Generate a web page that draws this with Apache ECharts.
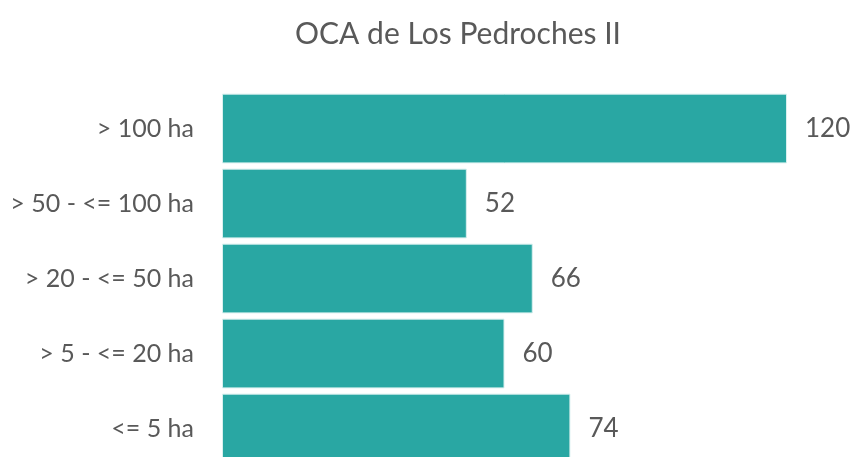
<!DOCTYPE html>
<html>
<head>
<meta charset="utf-8">
<script src="https://cdn.jsdelivr.net/npm/echarts@6/dist/echarts.min.js"></script>
<style>
  html, body { margin: 0; padding: 0; background: #fff; overflow: hidden; }
  #chart { width: 852px; height: 480px; }
</style>
</head>
<body>
<div id="chart"></div>
<script>
const categories = ["<= 5 ha", "> 5 - <= 20 ha", "> 20 - <= 50 ha", "> 50 - <= 100 ha", "> 100 ha"];
const values = [74, 60, 66, 52, 120];

const chart = echarts.init(document.getElementById("chart"));
const font = "Lato, 'Open Sans', sans-serif";

chart.setOption({
  animation: false,
  title: {
    text: "OCA de Los Pedroches II",
    left: 453,
    textAlign: "center",
    top: 14,
    textStyle: { fontFamily: font, fontSize: 30, fontWeight: "normal", color: "#595959" }
  },
  grid: { left: 222, top: 91, width: 565, height: 375 },
  xAxis: {
    type: "value",
    min: 0,
    max: 120,
    show: false
  },
  yAxis: {
    type: "category",
    data: categories,
    axisLine: { show: false },
    axisTick: { show: false },
    axisLabel: { fontFamily: font, fontSize: 25, color: "#595959", margin: 28 }
  },
  series: [{
    type: "bar",
    data: values,
    barCategoryGap: "7%",
    itemStyle: { color: "#29a7a3", borderColor: "#d9f0ef", borderWidth: 1 },
    label: {
      show: true,
      position: "right",
      distance: 18,
      fontFamily: font,
      fontSize: 26,
      color: "#595959"
    }
  }]
});
</script>
</body>
</html>
